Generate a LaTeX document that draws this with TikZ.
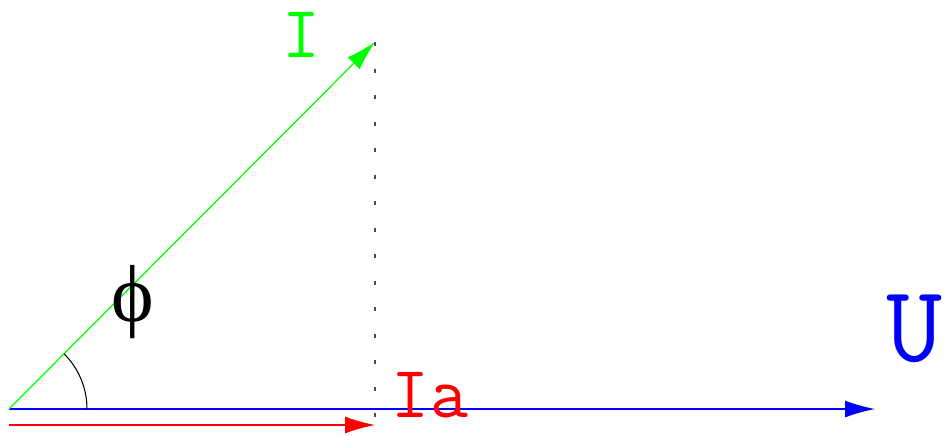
\documentclass[tikz,border=0pt]{standalone}
\usepackage{fontspec}
\setmainfont{Liberation Serif}
\usetikzlibrary{arrows.meta}
\usepackage{xcolor}
\definecolor{current}{RGB}{0,255,0}
\definecolor{voltage}{RGB}{0,0,255}
\definecolor{active}{RGB}{255,0,0}

\begin{document}
\begin{tikzpicture}[
  vec/.style={line width=0.35pt, -{Latex[length=3mm,width=1.7mm]}},
  lbl/.style={inner sep=0pt, font=\ttfamily\fontsize{21}{21}\selectfont},
]
  \useasboundingbox (0,0) rectangle (9.47,4.35);
  \coordinate (O) at (0.09,0.26);
  \coordinate (Uend) at (8.75,0.26);
  \coordinate (Itip) at (3.75,3.93);
  \coordinate (Iastart) at (0.09,0.10);
  \coordinate (Iaend) at (3.75,0.10);
  \coordinate (foot) at (3.75,0.07);

  \draw[vec, voltage] (O) -- (Uend);
  \draw[vec, current] (O) -- (Itip);
  \draw[vec, active] (Iastart) -- (Iaend);
  \draw[line width=0.4pt, black!70, dash pattern=on 0.04cm off 0.225cm] (Itip) -- (foot);
  \draw[line width=0.3pt] ([shift={(0:0.78)}]O) arc (0:45:0.78);

  \node[lbl, current] (Ilabel) at (3.02,4.00) {I};
  \node[lbl, active] (Ialabel) at (4.30,0.40) {Ia};
  \node[lbl, voltage, font=\ttfamily\fontsize{31}{31}\selectfont] (Ulabel) at (9.15,1.06) {U};
  \node[inner sep=0pt, font=\fontsize{23}{23}\selectfont] (phi) at (1.33,1.33) {ϕ};
\end{tikzpicture}
\end{document}
